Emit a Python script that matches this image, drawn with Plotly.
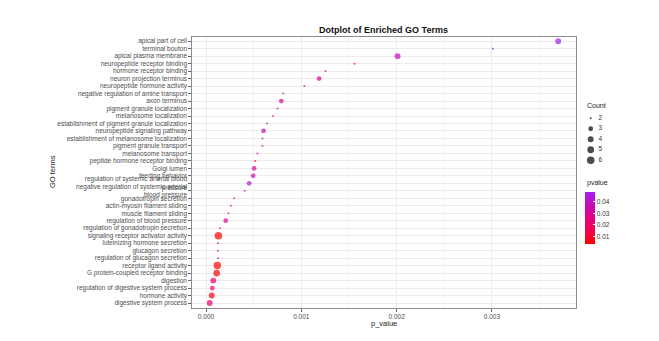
import math
import plotly.graph_objects as go

# GO terms, top to bottom as they appear on the y axis
go_terms = [
    "apical part of cell",
    "terminal bouton",
    "apical plasma membrane",
    "neuropeptide receptor binding",
    "hormone receptor binding",
    "neuron projection terminus",
    "neuropeptide hormone activity",
    "negative regulation of amine transport",
    "axon terminus",
    "pigment granule localization",
    "melanosome localization",
    "establishment of pigment granule localization",
    "neuropeptide signaling pathway",
    "establishment of melanosome localization",
    "pigment granule transport",
    "melanosome transport",
    "peptide hormone receptor binding",
    "Golgi lumen",
    "feeding behavior",
    "regulation of systemic arterial blood<br>pressure",
    "negative regulation of systemic arterial<br>blood pressure",
    "gonadotropin secretion",
    "actin-myosin filament sliding",
    "muscle filament sliding",
    "regulation of blood pressure",
    "regulation of gonadotropin secretion",
    "signaling receptor activator activity",
    "luteinizing hormone secretion",
    "glucagon secretion",
    "regulation of glucagon secretion",
    "receptor ligand activity",
    "G protein-coupled receptor binding",
    "digestion",
    "regulation of digestive system process",
    "hormone activity",
    "digestive system process",
]

p_values = [
    0.003695, 0.003010, 0.002010, 0.001558, 0.001253, 0.001186, 0.001032,
    0.000810, 0.000790, 0.000750, 0.000702, 0.000639, 0.000604, 0.000592,
    0.000592, 0.000540, 0.000516, 0.000505, 0.000495, 0.000453, 0.000407,
    0.000295, 0.000260, 0.000235, 0.000207, 0.000147, 0.000130, 0.000126,
    0.000126, 0.000126, 0.000119, 0.000112, 0.000077, 0.000066, 0.000060,
    0.000039,
]

pvalue = [
    0.0487, 0.0450, 0.0380, 0.0120, 0.0150, 0.0280, 0.0080,
    0.0350, 0.0300, 0.0350, 0.0360, 0.0400, 0.0380, 0.0370,
    0.0370, 0.0380, 0.0100, 0.0320, 0.0370, 0.0430, 0.0400,
    0.0350, 0.0350, 0.0350, 0.0300, 0.0250, 0.0035, 0.0300,
    0.0250, 0.0250, 0.0033, 0.0050, 0.0220, 0.0180, 0.0060,
    0.0220,
]

counts = [
    4, 2, 4, 2, 2, 3, 2,
    2, 3, 2, 2, 2, 3, 2,
    2, 2, 2, 3, 3, 3, 2,
    2, 2, 2, 3, 2, 6, 2,
    2, 2, 6, 5, 4, 3, 4,
    4,
]

count_levels = [2, 3, 4, 5, 6]
x_ticks = [0.000, 0.001, 0.002, 0.003]
pvalue_ticks = [0.01, 0.02, 0.03, 0.04]

FONT = "Liberation Sans"
# red -> purple, stops sampled in Lab space like ggplot's gradient
COLORSCALE = [[0.0, "#FF0000"], [0.25, "#F4004B"], [0.5, "#E30080"],
              [0.75, "#CA0AB7"], [1.0, "#A020F0"]]

# the page body has an 8px margin, so the figure is drawn at (8, 8)
W, H, OFF = 651, 333, 8


def px(x):
    return (x - OFF) / W


def py(y):
    return 1 - (y - OFF) / H


def size_px(c):
    # area-style size scale over the Count range
    lo, hi = min(count_levels), max(count_levels)
    return 2.0 + 5.5 * math.sqrt((c - lo) / (hi - lo))


span = max(p_values) - min(p_values)
x_range = [min(p_values) - 0.05 * span, max(p_values) + 0.05 * span]
n = len(go_terms)

fig = go.Figure()

fig.add_trace(go.Scatter(
    x=p_values, y=go_terms, mode="markers", showlegend=False,
    marker=dict(
        size=[size_px(c) for c in counts],
        color=pvalue, cmin=min(pvalue), cmax=max(pvalue),
        colorscale=COLORSCALE, line=dict(width=0),
        colorbar=dict(
            x=px(585), xanchor="left", xpad=0,
            y=py(217.9), yanchor="middle", ypad=0,
            len=52, lenmode="pixels", thickness=10,
            tickvals=pvalue_ticks, ticktext=[f"{v:.2f}" for v in pvalue_ticks],
            ticks="inside", tickcolor="white", ticklen=2,
            outlinewidth=0,
            tickfont=dict(family=FONT, size=6.5, color="#333333"),
        ),
    ),
))

# size legend drawn on its own small axes
fig.add_trace(go.Scatter(
    x=[0] * len(count_levels), y=count_levels, mode="markers",
    xaxis="x2", yaxis="y2", showlegend=False, hoverinfo="skip",
    marker=dict(size=[size_px(c) for c in count_levels], color="black",
                line=dict(width=0)),
))
fig.add_trace(go.Scatter(
    x=[0.6] * len(count_levels), y=count_levels, mode="text",
    text=[str(c) for c in count_levels], textposition="middle right",
    xaxis="x2", yaxis="y2", showlegend=False, hoverinfo="skip",
    textfont=dict(family=FONT, size=6.5, color="#333333"),
))

fig.update_layout(
    width=W, height=H,
    margin=dict(l=0, r=0, t=0, b=0),
    paper_bgcolor="white", plot_bgcolor="white",
    font=dict(family=FONT, color="#4D4D4D"),
    xaxis=dict(
        domain=[px(192.3), px(575.6)], range=x_range,
        tickvals=x_ticks, ticktext=[f"{v:.3f}" for v in x_ticks],
        showgrid=True, gridcolor="#EBEBEB", gridwidth=1,
        minor=dict(dtick=0.0005, tick0=0, showgrid=True,
                   gridcolor="#F4F4F4", gridwidth=1),
        zeroline=False, showline=True, mirror=True,
        linecolor="#8C8C8C", linewidth=1,
        ticks="outside", ticklen=3, tickcolor="#666666",
        tickfont=dict(family=FONT, size=6.5, color="#4D4D4D"),
    ),
    yaxis=dict(
        domain=[py(307.5), py(36.7)],
        type="category", categoryorder="array", categoryarray=go_terms,
        tickmode="array", tickvals=go_terms, ticktext=go_terms,
        range=[n - 0.4, -0.6],
        showgrid=True, gridcolor="#EBEBEB", gridwidth=1,
        zeroline=False, showline=True, mirror=True,
        linecolor="#8C8C8C", linewidth=1,
        ticks="outside", ticklen=3, tickcolor="#666666",
        tickfont=dict(family=FONT, size=6.5, color="#4D4D4D"),
    ),
    xaxis2=dict(domain=[px(577.5), px(603.9)], range=[-1, 1], visible=False),
    yaxis2=dict(domain=[py(165.5), py(113)], range=[6.5, 1.5], visible=False),
    title=dict(text="<b>Dotplot of Enriched GO Terms</b>",
               x=px(383.5), xanchor="center", y=py(30), yanchor="middle",
               font=dict(family=FONT, size=9, color="#111111")),
    annotations=[
        dict(text="p_value", x=px(383.5), y=py(323.5), xref="paper",
             yref="paper", xanchor="center", yanchor="middle", showarrow=False,
             font=dict(family=FONT, size=7.5, color="#222222")),
        dict(text="GO terms", x=px(52), y=py(172), xref="paper",
             yref="paper", xanchor="center", yanchor="middle", showarrow=False,
             textangle=-90, font=dict(family=FONT, size=7.5, color="#222222")),
        dict(text="Count", x=px(585), y=py(105.7), xref="paper",
             yref="paper", xanchor="left", yanchor="middle", showarrow=False,
             font=dict(family=FONT, size=7, color="#222222")),
        dict(text="pvalue", x=px(585), y=py(183.3), xref="paper",
             yref="paper", xanchor="left", yanchor="middle", showarrow=False,
             font=dict(family=FONT, size=7, color="#222222")),
    ],
)

fig.write_html("out.html")
